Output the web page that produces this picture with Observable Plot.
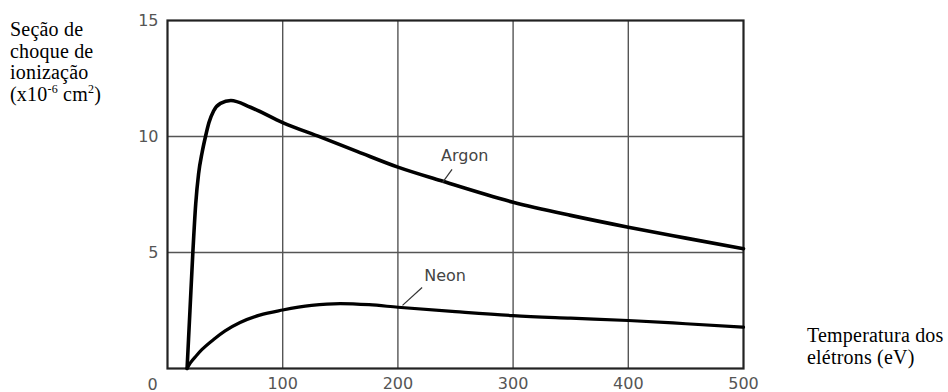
<!DOCTYPE html>
<html><head><meta charset="utf-8">
<script src="https://cdn.jsdelivr.net/npm/d3@7"></script>
<script src="https://cdn.jsdelivr.net/npm/@observablehq/plot@0.6"></script>
<style>
body{margin:0;background:#fff;}
#wrap{position:relative;width:948px;height:392px;}
#wrap svg{position:absolute;left:0;top:0;}
.lab{position:absolute;font-family:"Liberation Serif","Times New Roman",serif;font-size:20px;line-height:21.7px;letter-spacing:0.2px;color:#000;white-space:nowrap;}
.sup{font-size:12px;position:relative;top:-8px;}
</style></head><body>
<div id="wrap">
<div class="lab" style="left:10px;top:19px">Seção de<br>choque de<br>ionização<br>(x10<span class="sup">-6</span> cm<span class="sup">2</span>)</div>
<div class="lab" style="left:807px;top:325px">Temperatura dos<br>elétrons (eV)</div>
</div>
<script>
// Data
const argonT = [17, 19.5, 22, 24.5, 27, 30, 33, 36, 40, 46, 55, 72, 100, 133, 165, 200, 237, 300, 350, 400, 450, 500];
const argonS = [0, 2.5, 5, 7.1, 8.4, 9.3, 10, 10.6, 11.1, 11.43, 11.55, 11.26, 10.6, 9.97, 9.35, 8.68, 8.1, 7.17, 6.6, 6.09, 5.62, 5.16];
const neonT = [17, 20, 25, 30, 40, 50, 63, 80, 100, 125, 150, 175, 200, 250, 300, 350, 400, 450, 500];
const neonS = [0, 0.25, 0.55, 0.82, 1.25, 1.62, 1.98, 2.3, 2.52, 2.72, 2.8, 2.75, 2.64, 2.45, 2.28, 2.17, 2.07, 1.93, 1.78];
const xTicks = [100, 200, 300, 400, 500];
const yTicks = [5, 10, 15];
const gridX = [100, 200, 300, 400];
const gridY = [5, 10];
const seriesNames = ["Argon", "Neon"];
const labelT = [258, 241];
const labelS = [9.18, 4.0];
const leaderT1 = [238.5, 204];
const leaderS1 = [8.0, 2.72];
const leaderT2 = [247, 221];
const leaderS2 = [8.58, 3.49];

const argon = argonT.map((t, i) => ({t, s: argonS[i]}));
const neon = neonT.map((t, i) => ({t, s: neonS[i]}));
const labels = seriesNames.map((n, i) => ({n, t: labelT[i], s: labelS[i]}));
const leaders = seriesNames.map((n, i) => ({x1: leaderT1[i], y1: leaderS1[i], x2: leaderT2[i], y2: leaderS2[i]}));

const plot = Plot.plot({
  width: 948, height: 392,
  marginLeft: 167, marginRight: 205, marginTop: 20, marginBottom: 24,
  x: {domain: [0, 500]},
  y: {domain: [0, 15]},
  style: {fontFamily: "'DejaVu Sans', sans-serif", fontSize: "16px", color: "#555", background: "transparent", overflow: "visible"},
  marks: [
    Plot.ruleX(gridX, {stroke: "#555", strokeWidth: 1.4}),
    Plot.ruleY(gridY, {stroke: "#555", strokeWidth: 1.4}),
    Plot.frame({stroke: "#222", strokeWidth: 2.2}),
    Plot.axisX(xTicks, {tickSize: 0, tickPadding: 9, label: null, fill: "#555", letterSpacing: "2px", fontSize: 16}),
    Plot.axisY(yTicks, {tickSize: 0, tickPadding: 9, label: null, fill: "#555", letterSpacing: "1px", fontSize: 16}),
    Plot.text(["0"], {x: 0, y: 0, dx: -15, dy: 16, fill: "#555", fontSize: 16}),
    Plot.line(argon, {x: "t", y: "s", stroke: "#000", strokeWidth: 3.6, curve: "monotone-x", strokeLinecap: "round", strokeLinejoin: "round"}),
    Plot.line(neon, {x: "t", y: "s", stroke: "#000", strokeWidth: 3.2, curve: "monotone-x", strokeLinecap: "round", strokeLinejoin: "round"}),
    Plot.link(leaders, {x1: "x1", y1: "y1", x2: "x2", y2: "y2", stroke: "#333", strokeWidth: 1.2}),
    Plot.text(labels, {x: "t", y: "s", text: "n", fill: "#444", fontSize: 16, letterSpacing: "0.8px", fontFamily: "'DejaVu Sans', sans-serif"})
  ]
});
document.getElementById("wrap").prepend(plot);
</script>
</body></html>
